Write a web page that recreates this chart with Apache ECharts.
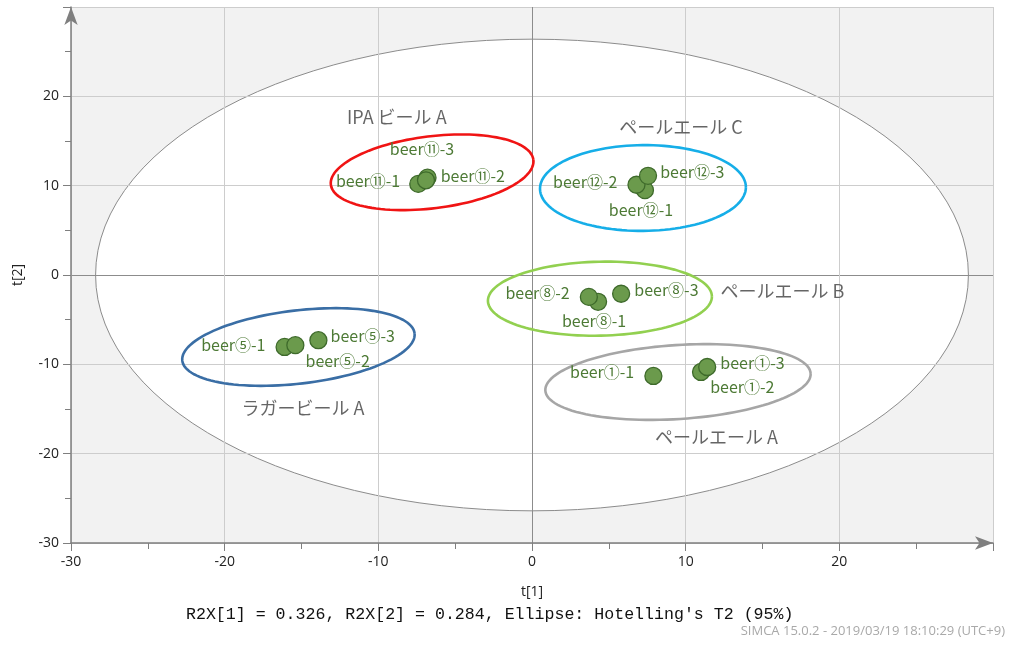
<!DOCTYPE html>
<html>
<head>
<meta charset="utf-8">
<script src="https://cdn.jsdelivr.net/npm/echarts@6/dist/echarts.min.js"></script>
<style>
  html, body { margin: 0; padding: 0; background: #fff; }
  #chart { width: 1009px; height: 646px; }
</style>
</head>
<body>
<div id="chart"></div>
<script>
// score values (t[1], t[2])
const sampleNames = ['beer⑪-1', 'beer⑪-2', 'beer⑪-3',
                     'beer⑫-1', 'beer⑫-2', 'beer⑫-3',
                     'beer⑧-1', 'beer⑧-2', 'beer⑧-3',
                     'beer⑤-1', 'beer⑤-2', 'beer⑤-3',
                     'beer①-1', 'beer①-2', 'beer①-3'];
const t1 = [-7.4, -6.8, -6.9,   7.35, 6.8, 7.55,   4.3, 3.7, 5.8,   -16.1, -15.4, -13.9,   7.9, 11.0, 11.4];
const t2 = [10.2, 10.9, 10.6,   9.5, 10.1, 11.1,   -3.0, -2.45, -2.1,   -8.05, -7.85, -7.3,   -11.3, -10.85, -10.3];

// where each sample label sits next to its point
const labelSide  = ['left', 'right', 'top',  'bottom', 'left', 'right',  'bottom', 'left', 'right',  'left', 'right', 'right',  'left', 'right', 'right'];
const labelShift = [[-4, -3], [-1, -2], [-4, -9],  [-4, -2], [-5, -3], [-2, -4],  [-4, -3], [-5, -4], [-1, -4],  [-5, -2], [-4, 16], [-2, -4],  [-5, -4], [-5, 15], [-1, -4]];

// group ellipses and their captions
const groupNames   = ['IPA ビール A', 'ペールエール C', 'ペールエール B', 'ラガービール A', 'ペールエール A'];
const groupLabelX  = [-8.8, 9.7, 16.3, -14.9, 12.0];
const groupLabelY  = [17.7, 16.5, -1.8, -14.9, -18.1];
const groupCenterX = [-6.5, 7.22, 4.42, -15.2, 9.5];
const groupCenterY = [11.5, 9.74, -2.65, -8.06, -11.98];
const groupRadiusX = [6.64, 6.7, 7.29, 7.61, 8.65];
const groupRadiusY = [4.03, 4.8, 4.14, 4.1, 4.14];
const groupTilt    = [7, 0.5, 1.2, 6.7, 3.7];
const groupColors  = ['#f01414', '#16aee8', '#92d050', '#3a6ea5', '#a6a6a6'];

// Hotelling's T2 (95%) ellipse
const hotellingCenter = [0, 0];
const hotellingRadius = [28.4, 26.4];

const axisMin = -30, axisMax = 30, axisStep = 10;

const chart = echarts.init(document.getElementById('chart'));

function ellipsePoints(api) {
  const c = api.coord([api.value(0), api.value(1)]);
  const s = api.size([api.value(2), api.value(3)]);
  const a = api.value(4) * Math.PI / 180;
  const pts = [];
  for (let k = 0; k <= 120; k++) {
    const t = k / 120 * Math.PI * 2;
    const ex = s[0] * Math.cos(t), ey = s[1] * Math.sin(t);
    pts.push([c[0] + ex * Math.cos(a) - ey * Math.sin(a), c[1] - (ex * Math.sin(a) + ey * Math.cos(a))]);
  }
  return pts;
}

const gridColors = ['#cdcdcd', '#cdcdcd', '#cdcdcd', '#8c8c8c', '#cdcdcd', '#cdcdcd', '#cdcdcd'];
const axisGray = '#7f7f7f';

function axisCommon() {
  return {
    type: 'value',
    min: axisMin,
    max: axisMax,
    interval: axisStep,
    axisLine: { show: true, onZero: false, symbol: ['none', 'arrow'], symbolSize: [10, 18], lineStyle: { color: axisGray, width: 1.5 } },
    axisTick: { show: true, length: 8, lineStyle: { color: axisGray } },
    minorTick: { show: true, splitNumber: 2, length: 6, lineStyle: { color: axisGray } },
    splitLine: { show: true, lineStyle: { color: gridColors, width: 1 } },
    axisLabel: {
      color: '#222', fontSize: 14, fontFamily: 'Open Sans', margin: 12,
      formatter: v => v === axisMax ? '' : String(v)
    },
    nameTextStyle: { color: '#222', fontSize: 14, fontFamily: 'Open Sans' }
  };
}

const sampleData = sampleNames.map((n, i) => ({
  value: [t1[i], t2[i]],
  name: n,
  label: { position: labelSide[i], offset: labelShift[i] }
}));

const groupLabelData = groupNames.map((n, i) => ({ value: [groupLabelX[i], groupLabelY[i]], name: n }));

const groupEllipseData = groupNames.map((n, i) => ({
  value: [groupCenterX[i], groupCenterY[i], groupRadiusX[i], groupRadiusY[i], groupTilt[i]]
}));

const option = {
  backgroundColor: '#fff',
  animation: false,
  grid: {
    left: 71, right: 16, top: 7, bottom: 103,
    show: true, backgroundColor: '#f2f2f2', borderWidth: 0, z: -5
  },
  xAxis: Object.assign(axisCommon(), { name: 't[1]', nameLocation: 'middle', nameGap: 42 }),
  yAxis: Object.assign(axisCommon(), { name: 't[2]', nameLocation: 'middle', nameGap: 46, nameRotate: 90 }),
  graphic: [
    {
      type: 'text', left: 186, top: 606,
      style: { text: "R2X[1] = 0.326, R2X[2] = 0.284, Ellipse: Hotelling's T2 (95%)", fill: '#111', font: '16.6px "Liberation Mono"' }
    },
    {
      type: 'text', right: 4, top: 625,
      style: { text: 'SIMCA 15.0.2 - 2019/03/19 18:10:29 (UTC+9)', fill: '#a9a9a9', font: '13px "Open Sans"' }
    }
  ],
  series: [
    {
      type: 'custom',
      z: -1,
      silent: true,
      clip: false,
      data: [[hotellingCenter[0], hotellingCenter[1], hotellingRadius[0], hotellingRadius[1], 0]],
      renderItem: (params, api) => ({
        type: 'polygon',
        shape: { points: ellipsePoints(api) },
        style: { fill: '#ffffff', stroke: '#8c8c8c', lineWidth: 1 }
      })
    },
    {
      type: 'custom',
      z: 3,
      silent: true,
      clip: false,
      data: groupEllipseData,
      renderItem: (params, api) => ({
        type: 'polyline',
        shape: { points: ellipsePoints(api) },
        style: { fill: null, stroke: groupColors[params.dataIndex], lineWidth: 2.6 }
      })
    },
    {
      type: 'scatter',
      z: 4,
      symbol: 'circle',
      symbolSize: 17,
      itemStyle: { color: '#6b9a4c', borderColor: '#3e6a2b', borderWidth: 1.3, opacity: 1 },
      label: {
        show: true, distance: 5,
        formatter: p => p.name,
        color: '#4d7a35', fontSize: 16, fontFamily: '"Noto Sans CJK JP", "Noto Sans"'
      },
      data: sampleData
    },
    {
      type: 'scatter',
      z: 5,
      symbolSize: 0,
      silent: true,
      label: {
        show: true, position: 'inside',
        formatter: p => p.name,
        color: '#3f3f3f', fontSize: 18, fontFamily: '"Noto Sans CJK JP", "Noto Sans"'
      },
      data: groupLabelData
    }
  ]
};

chart.setOption(option);
</script>
</body>
</html>
